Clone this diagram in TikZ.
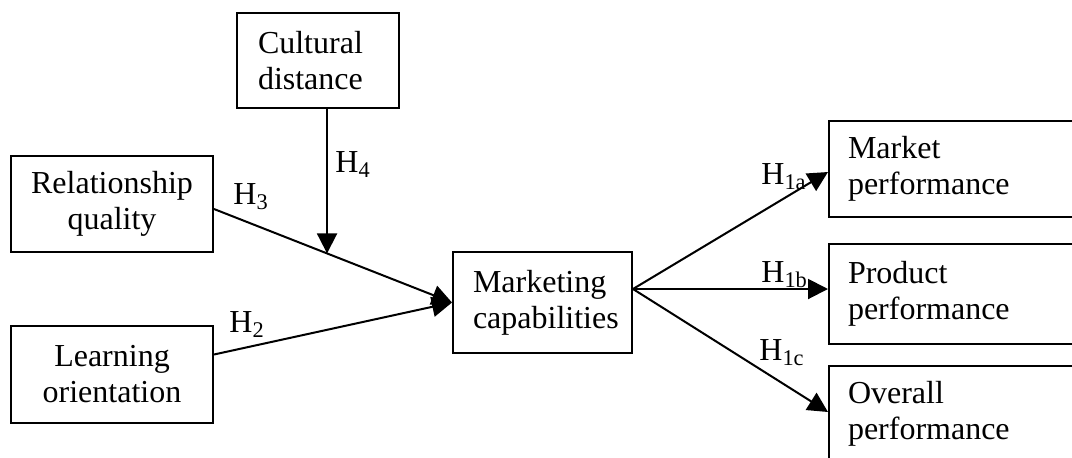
\documentclass[tikz,border=0pt]{standalone}
\usepackage{fontspec}
\setmainfont{Liberation Serif}
\usepackage{tikz}
\usetikzlibrary{positioning,arrows.meta}

\begin{document}
\begin{tikzpicture}[x=0.5pt, y=-0.5pt, font=\fontsize{16}{18}\selectfont,
    box/.style={draw, rectangle, line width=1pt},
    cbox/.style={box, align=center},
    lbox/.style={box, align=left},
    arr/.style={line width=1pt, -{Triangle[length=10pt,width=10pt]}},
    hlab/.style={anchor=base west, inner sep=0pt}]
    \useasboundingbox (0,0) rectangle (1072,457);
    \clip (0,0) rectangle (1072,457);
    \node[lbox, text width=60pt, inner xsep=10.5pt, minimum height=47.5pt] (cult) at (318,60.5) {Cultural\\distance};
    \node[cbox, minimum width=101pt, minimum height=48pt] (rel) at (112,204) {Relationship\\quality};
    \node[cbox, minimum width=101pt, minimum height=48.5pt, below=36pt of rel] (learn) {Learning\\orientation};
    \node[lbox, text width=69.5pt, inner xsep=10pt, minimum height=50.5pt] (mkt) at (542.5,302.5) {Marketing\\capabilities};
    \node[lbox, text width=115pt, inner xsep=9.5pt, minimum height=48pt] (market) at (963,169) {Market\\performance};
    \node[lbox, text width=115pt, inner xsep=9.5pt, minimum height=50pt, below=12.5pt of market] (product) {Product\\performance};
    \node[lbox, text width=115pt, inner xsep=9.5pt, minimum height=48pt, below=10pt of product] (overall) {Overall\\performance};

    \draw[arr] ([yshift=-2.5pt]rel.east) -- coordinate[pos=0.475] (mod) (mkt.west);
    \draw[arr] ([yshift=10pt]learn.east) -- (mkt.west);
    \draw[arr] (mod |- cult.south) -- (mod);
    \coordinate (fan) at ([yshift=6.75pt]mkt.east);
    \draw[arr] (fan) -- ([yshift=-1.5pt]market.west);
    \draw[arr] (fan) -- (fan -| product.west);
    \draw[arr] (fan) -- ([yshift=1pt]overall.west);

    \node[hlab] (h4) at (335,172) {H\textsubscript{4}};
    \node[hlab] (h3) at (233,204) {H\textsubscript{3}};
    \node[hlab] (h2) at (229,332) {H\textsubscript{2}};
    \node[hlab] (h1a) at (761,184) {H\textsubscript{1a}};
    \node[hlab] (h1b) at (761,282) {H\textsubscript{1b}};
    \node[hlab] (h1c) at (759,360) {H\textsubscript{1c}};
\end{tikzpicture}
\end{document}
